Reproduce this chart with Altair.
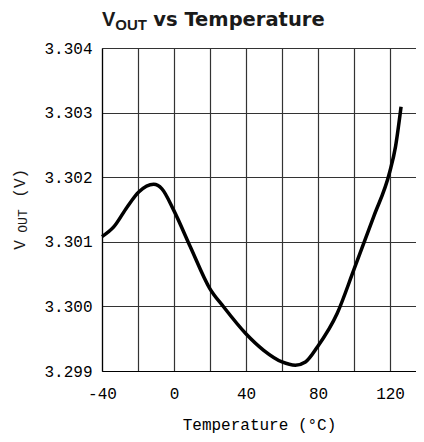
import altair as alt
import pandas as pd

# Data
temps = [-40, -33.5, -26, -19.6, -11.3, -6.7, -0.2, 9.1, 19.8, 27.6, 39.8, 49.8,
         60, 67.4, 73, 79.8, 90.6, 99.8, 110.9, 119.8, 123, 126.1]
vout = [3.30108, 3.30123, 3.30154, 3.30177, 3.30189, 3.30182, 3.30149, 3.30092,
        3.30028, 3.29999, 3.29958, 3.29932, 3.29914, 3.29909, 3.29914, 3.29938,
        3.29989, 3.30056, 3.30139, 3.30208, 3.30247, 3.30309]
x_ticks = [-40, -20, 0, 20, 40, 60, 80, 100, 120]
y_ticks = [3.299, 3.300, 3.301, 3.302, 3.303, 3.304]
title_parts = ["V", "OUT", "vs Temperature"]
ytitle_parts = ["V", "OUT", "(V)"]
x_title = "Temperature (°C)"

df = pd.DataFrame({"temp": temps, "vout": vout})

MONO = "Liberation Mono"
SANS = "Liberation Sans"

line = alt.Chart(df).mark_line(
    color="black", strokeWidth=3.5, interpolate="monotone"
).encode(
    x=alt.X("temp:Q",
            scale=alt.Scale(domain=[-40, 134.4], nice=False),
            axis=alt.Axis(values=x_ticks, title=x_title,
                          labelExpr="datum.value % 40 == 0 ? replace(datum.label, '\u2212', '-') : ''",
                          labelFlush=False, labelOverlap=False,
                          titlePadding=15, labelPadding=14)),
    y=alt.Y("vout:Q",
            scale=alt.Scale(domain=[3.299, 3.304], nice=False, zero=False),
            axis=alt.Axis(values=y_ticks, format=".3f", title=None,
                          labelPadding=10)),
)

def txt(s, x, y, size, bold=False, font=SANS, angle=0):
    return alt.Chart(pd.DataFrame({"t": [s]})).mark_text(
        align="left", baseline="alphabetic", fontSize=size,
        fontWeight="bold" if bold else "normal", font=font,
        angle=angle, color="#1a1a1a"
    ).encode(x=alt.value(x), y=alt.value(y), text="t:N")

layers = [
    line,
    txt(title_parts[0], 0, -22.3, 20, True),
    txt(title_parts[1], 13.3, -18.3, 15, True),
    txt(title_parts[2], 51.3, -22.3, 19.5, True, "DejaVu Sans"),
    txt(ytitle_parts[0], -76.7, 201.7, 16, False, MONO, 270),
    txt(ytitle_parts[1], -74.7, 184.7, 13, False, MONO, 270),
    txt(ytitle_parts[2], -77.5, 149.7, 16, False, MONO, 270),
]

chart = alt.layer(*layers).properties(
    width=314, height=323,
    autosize=alt.AutoSizeParams(type="none"),
    padding={"left": 94, "top": 40, "right": 0, "bottom": 63},
).configure_view(stroke=None).configure_axis(
    grid=True, gridColor="#333333", gridWidth=1.2, gridOpacity=1,
    domain=True, domainColor="black", domainWidth=1.2,
    ticks=False,
    labelFont=MONO, labelFontSize=16, labelColor="black",
    titleFont=MONO, titleFontSize=16, titleFontWeight="normal", titleColor="black",
)

chart.save("out.html", embed_options={"renderer": "svg", "actions": False})
